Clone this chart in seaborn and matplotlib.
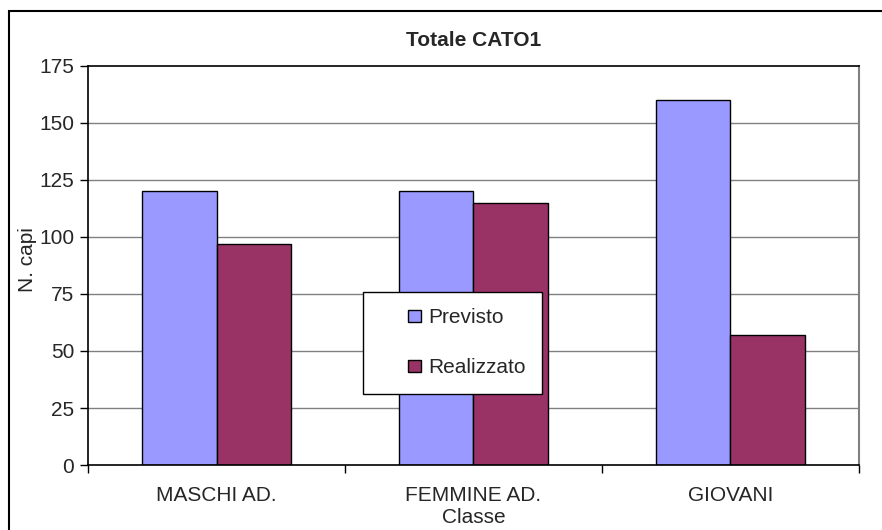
import matplotlib
matplotlib.use("Agg")
import matplotlib.pyplot as plt
import seaborn as sns
import pandas as pd
from matplotlib.patches import Rectangle
from matplotlib.ticker import FixedLocator
from matplotlib.legend_handler import HandlerPatch

categories = ["MASCHI AD.", "FEMMINE AD.", "GIOVANI"]
previsto = [120, 120, 160]
realizzato = [97, 115, 57]
series_names = ["Previsto", "Realizzato"]
yticks = [0, 25, 50, 75, 100, 125, 150, 175]

df = pd.DataFrame({
    "Classe": categories * 2,
    "N. capi": previsto + realizzato,
    "Serie": [series_names[0]] * 3 + [series_names[1]] * 3,
})

sns.set_theme(style="white")
plt.rcParams["font.family"] = ["Liberation Sans", "DejaVu Sans"]
FS = 15

fig = plt.figure(figsize=(8.82, 5.30), dpi=100)
ax = fig.add_axes([0.0998, 0.1226, 0.874, 0.753])

sns.barplot(data=df, x="Classe", y="N. capi", hue="Serie",
            palette=["#9999FF", "#993366"], width=0.58, gap=0,
            edgecolor="black", linewidth=1.0, ax=ax, saturation=1)

ax.set_ylim(0, 175)
ax.set_xlim(-0.5, 2.5)
ax.set_yticks(yticks)
ax.set_yticklabels([str(t) for t in yticks], fontsize=FS)
for t in yticks[1:-1]:
    ax.axhline(t, color="#808080", linewidth=1.0, zorder=0)
ax.set_axisbelow(True)

ax.set_xticks(range(len(categories)))
ax.set_xticklabels(categories, fontsize=FS)
ax.xaxis.set_minor_locator(FixedLocator([-0.5, 0.5, 1.5, 2.5]))
ax.tick_params(axis="x", which="major", length=0, pad=15)
ax.tick_params(axis="x", which="minor", length=6, width=1, color="black", direction="out", bottom=True)
ax.tick_params(axis="y", length=6, width=1, color="black", direction="out", left=True, pad=4)

for s in ["left", "bottom", "top"]:
    ax.spines[s].set_color("black")
    ax.spines[s].set_linewidth(1.2)
ax.spines["right"].set_color("#808080")
ax.spines["right"].set_linewidth(1.5)

ax.set_xlabel("Classe", fontsize=FS)
ax.xaxis.set_label_coords(0.5, -0.108)
ax.set_ylabel("N. capi", fontsize=FS)
ax.yaxis.set_label_coords(-0.079, 0.514)
ax.yaxis.label.set_verticalalignment("center")
ax.set_title("Totale CATO1", fontsize=FS, fontweight="bold", pad=14)


def small_square(legend, orig_handle, xdescent, ydescent, width, height, fontsize):
    s = 9
    return Rectangle((width - s - xdescent, (height - s) / 2 - ydescent), s, s)


leg = ax.legend(loc="upper left", bbox_to_anchor=(0.357, 0.434), fontsize=FS,
                frameon=True, fancybox=False, shadow=False, framealpha=1,
                edgecolor="black", handlelength=1.97, handleheight=0.6,
                labelspacing=1.47, borderpad=0.8, handletextpad=0.34,
                borderaxespad=0,
                handler_map={Rectangle: HandlerPatch(patch_func=small_square)})
leg.get_frame().set_linewidth(1.0)
for h in leg.legend_handles:
    h.set_edgecolor("black")
    h.set_linewidth(1.0)

fig.patches.append(Rectangle((9 / 882, -0.01), 1.0, 1 - 11 / 530 + 0.01,
                             transform=fig.transFigure, fill=False,
                             edgecolor="black", linewidth=1.5))

fig.savefig("out.png", dpi=100)
